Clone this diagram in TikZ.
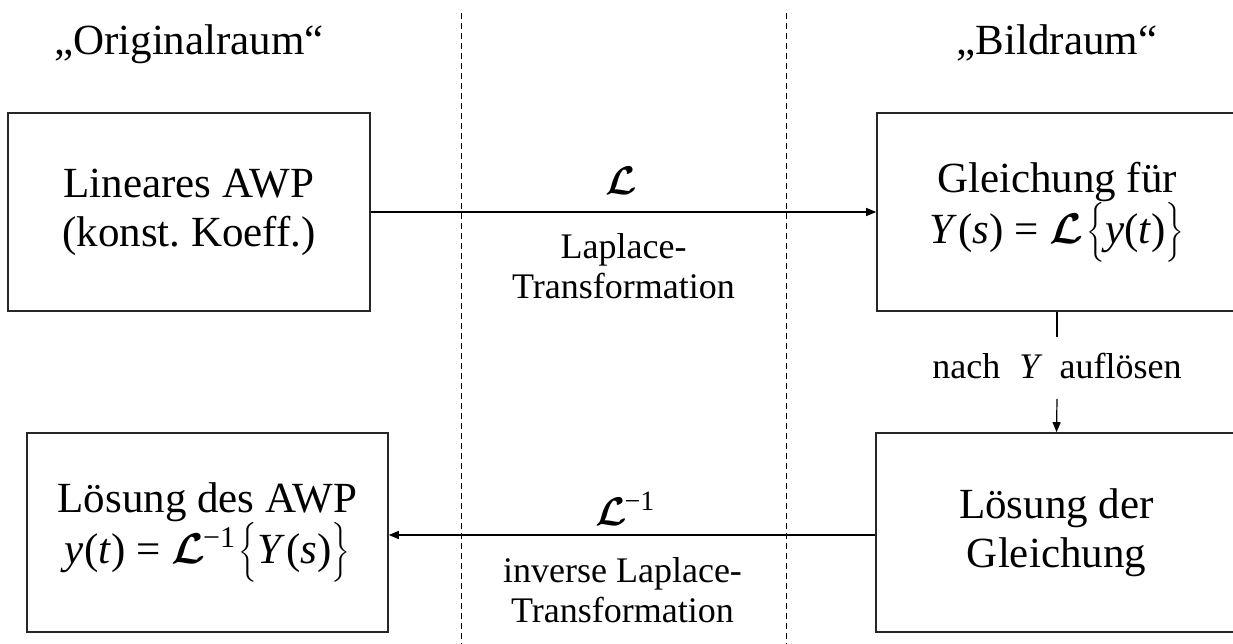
\RequirePackage{fix-cm}
\documentclass[tikz,border=0pt]{standalone}
\usepackage{amsmath}
\usepackage{bm}
\usepackage{fontspec}
\setmainfont{Liberation Serif}
\usetikzlibrary{arrows.meta}
\frenchspacing
\newcommand{\cL}{\ensuremath{\bm{\mathcal{L}}}}
\newcommand{\iv}[1]{\textit{#1}}
\tikzset{
  box/.style={draw=black!85, line width=1.6pt, align=center, inner sep=0pt,
    font=\fontsize{43}{49}\selectfont},
  hdr/.style={anchor=base, inner sep=0pt, font=\fontsize{43}{49}\selectfont},
  lbl/.style={align=center, inner sep=0pt, font=\fontsize{36}{40}\selectfont},
  sym/.style={anchor=base, inner sep=0pt, font=\fontsize{40}{44}\selectfont},
  arr/.style={line width=1.2pt, -{Triangle[length=10pt,width=8pt]}},
  sep/.style={line width=0.9pt, dash pattern=on 6pt off 4pt},
}
\begin{document}
\begin{tikzpicture}[x=1pt,y=-1pt]
\clip (0,0) rectangle (1233,644);
\fill[white] (0,0) rectangle (1233,644);

% dashed separators
\coordinate (d1a) at (461,13);
\coordinate (d1b) at (461,644);
\coordinate (d2a) at (786,13);
\coordinate (d2b) at (786,644);
\draw[sep] (d1a) -- (d1b);
\draw[sep] (d2a) -- (d2b);

% headers
\node[hdr] (h1) at (189,55) {„Originalraum“};
\node[hdr] (h2) at (1057,55) {„Bildraum“};

% boxes
\node[box, minimum width=362pt, minimum height=198pt] (b1) at (189,212)
  {Lineares AWP\\(konst. Koeff.)};
\node[box, minimum width=360pt, minimum height=198pt] (b2) at (1057,212)
  {Gleichung für\\\iv{Y}\kern1pt(\iv{s}) = \cL\kern3pt$\bigl\{$\iv{y}(\iv{t})$\bigr\}$};
\node[box, minimum width=361pt, minimum height=199pt] (b3) at (1056.5,532.5)
  {Lösung der\\Gleichung};
\node[box, minimum width=361pt, minimum height=199pt] (b4) at (207.5,532.5)
  {Lösung des AWP\\\iv{y}(\iv{t}) = \cL\kern-2pt\textsuperscript{−1}\kern3pt$\bigl\{$\iv{Y}\kern1pt(\iv{s})$\bigr\}$};

% top arrow
\draw[arr] (b1.east) -- (b2.west);
\node[sym] (l1) at (621,195) {\cL};
\node[lbl] (t1) at (623.5,266) {Laplace-\\Transformation};

% bottom arrow
\draw[arr] ([yshift=-2.5pt]b3.west) -- ([yshift=-2.5pt]b4.east);
\node[sym] (l2) at (625,525) {\cL\kern-2pt\textsuperscript{−1}};
\node[lbl] (t2) at (622.5,590) {inverse Laplace-\\Transformation};

% vertical arrow
\node[lbl, anchor=base] (lab) at (1057,378)
  {nach\hspace{19pt}\iv{Y}\hspace{17pt}auflösen};
\coordinate (v1) at (1057,337);
\coordinate (v2) at (1057,399);
\draw[line width=1.2pt] (b2.south) -- (v1);
\draw[arr] (v2) -- (b3.north);
\end{tikzpicture}
\end{document}
